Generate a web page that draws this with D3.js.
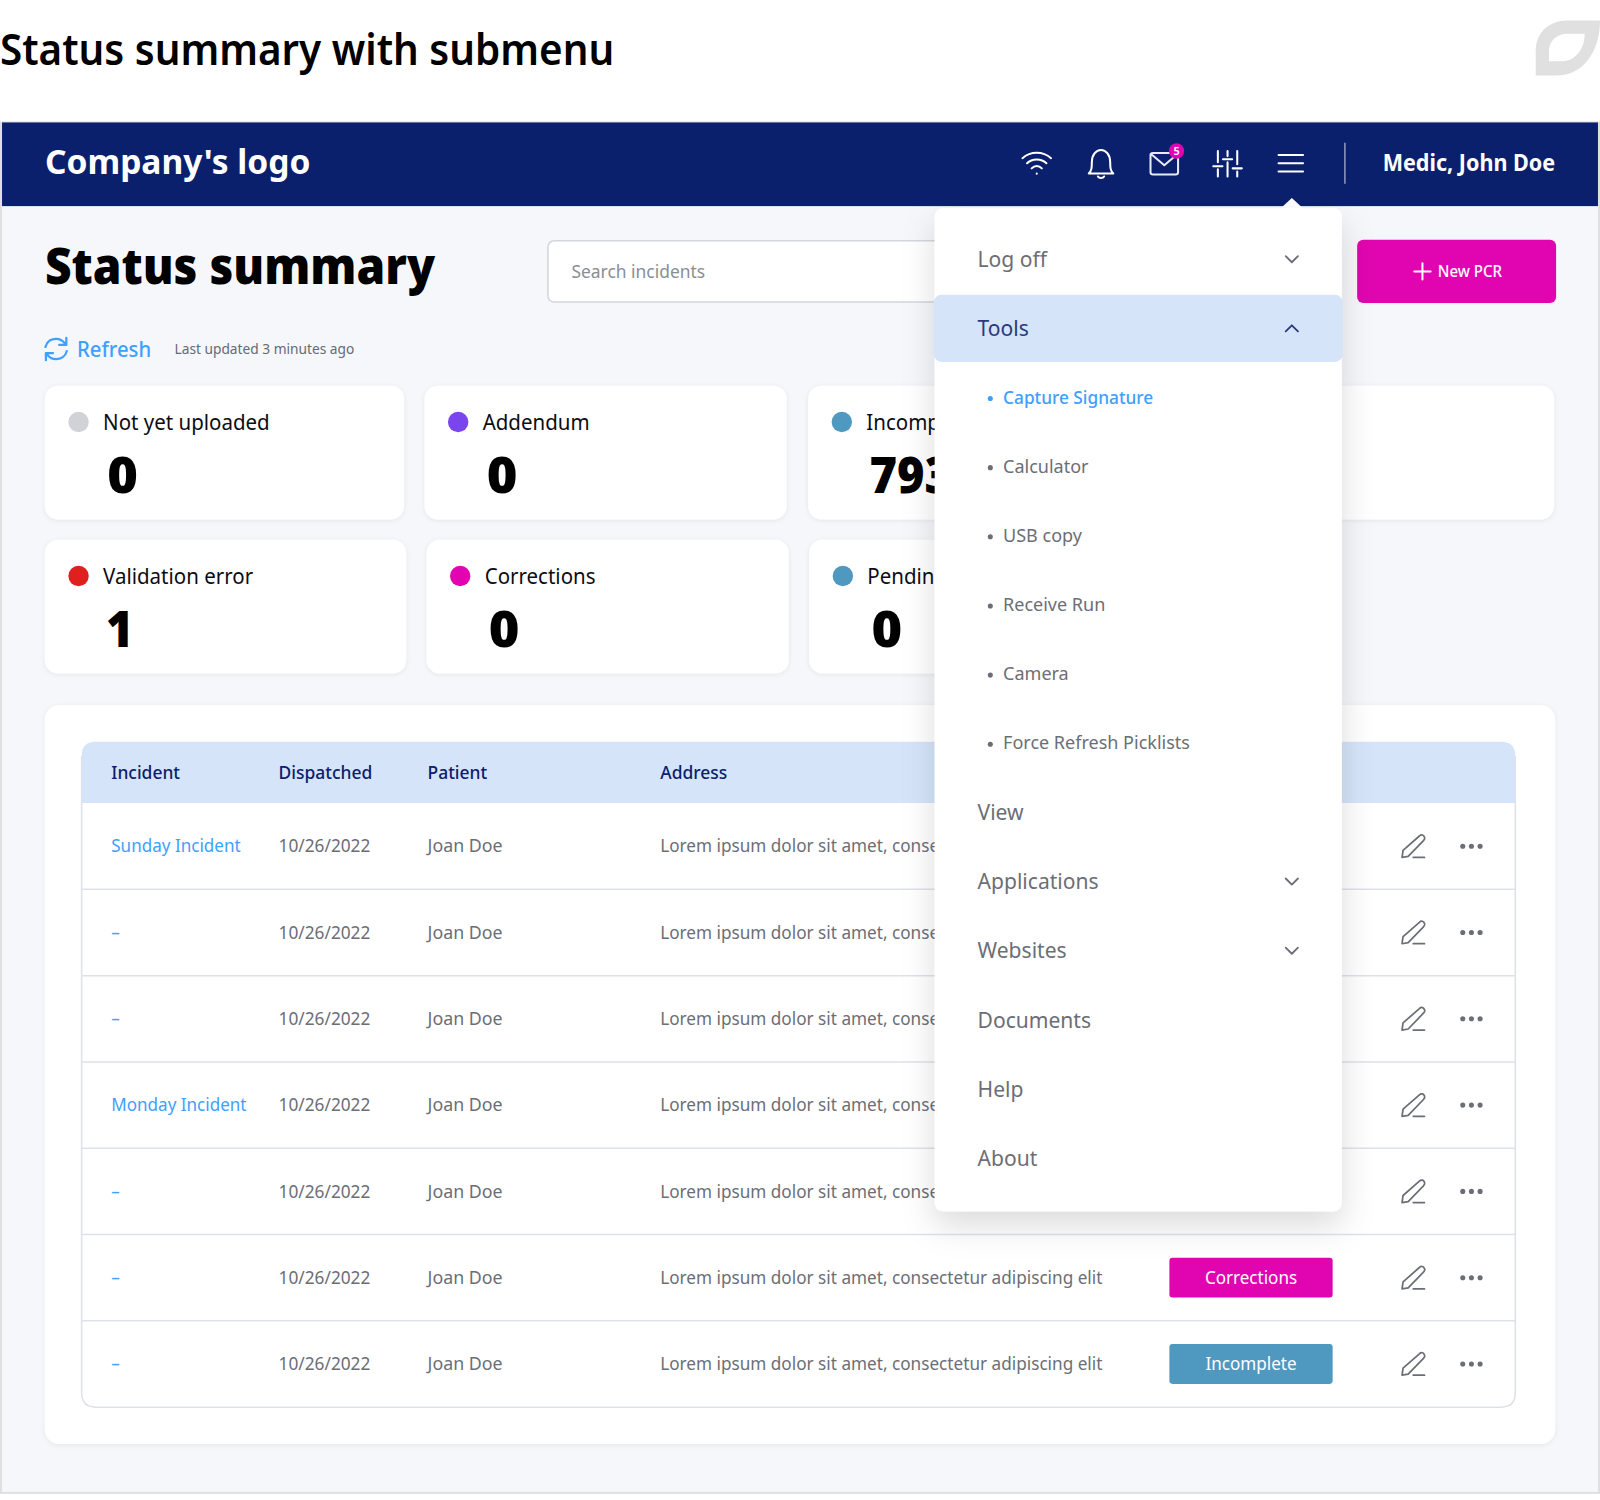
<!DOCTYPE html>
<html>
<head>
<meta charset="utf-8">
<title>Status summary with submenu</title>
<script src="https://cdn.jsdelivr.net/npm/d3@7/dist/d3.min.js"></script>
<style>
	html, body { margin: 0; padding: 0; background: #fff; }
	svg { display: block; }
	text { font-family: "Noto Sans", sans-serif; }
</style>
</head>
<body>
<script>

var cardLabels=[["Not yet uploaded", "Addendum", "Incomplete"], ["Validation error", "Corrections", "Pending"]];
var cardValues=[["0", "0", "793"], ["1", "0", "0"]];
var cardColors=[["#d0d2d8", "#7a45ec", "#4f99c1"], ["#e01f1f", "#e005b0", "#4f99c1"]];

var columns=["Incident", "Dispatched", "Patient", "Address"];
var incidents=["Sunday Incident", "-", "-", "Monday Incident", "-", "-", "-"];
var dispatched=["10/26/2022", "10/26/2022", "10/26/2022", "10/26/2022", "10/26/2022", "10/26/2022", "10/26/2022"];
var patients=["Joan Doe", "Joan Doe", "Joan Doe", "Joan Doe", "Joan Doe", "Joan Doe", "Joan Doe"];
var addresses=[
	"Lorem ipsum dolor sit amet, conse", // the menu covers the rest of these five
	"Lorem ipsum dolor sit amet, conse",
	"Lorem ipsum dolor sit amet, conse",
	"Lorem ipsum dolor sit amet, conse",
	"Lorem ipsum dolor sit amet, conse",
	"Lorem ipsum dolor sit amet, consectetur adipiscing elit",
	"Lorem ipsum dolor sit amet, consectetur adipiscing elit"
];
var statuses=[null, null, null, null, null, "Corrections", "Incomplete"]; // the others are covered by the menu

var menuItems=["Log off", "Tools", "Capture Signature", "Calculator", "USB copy", "Receive Run", "Camera",
	"Force Refresh Picklists", "View", "Applications", "Websites", "Documents", "Help", "About"];
var menuDepth=[0, 0, 1, 1, 1, 1, 1, 1, 0, 0, 0, 0, 0, 0];
var menuChevron=["down", "up", null, null, null, null, null, null, null, "down", "down", null, null, null];

var navy="#0a206c", pale="#d5e4f9", blue="#3ea0ff", magenta="#e005b0", teal="#4f99c1", grey="#6b6e76", line="#dfe1e8";

var svg=d3.select("body").append("svg")
	.attr("width", 1600)
	.attr("height", 1500)
	.attr("viewBox", "0 0 1568 1470"); // the layout was measured on a 1568 wide copy

var defs=svg.append("defs");

function shadow(id, dy, blur, alpha) {
	defs.append("filter").attr("id", id)
		.attr("x", "-20%").attr("y", "-20%").attr("width", "140%").attr("height", "140%")
		.append("feDropShadow")
		.attr("dx", 0).attr("dy", dy).attr("stdDeviation", blur)
		.attr("flood-color", "#000").attr("flood-opacity", alpha);
}

shadow("card", 1, 2.5, 0.07);
shadow("menu", 14, 16, 0.14);

function label(parent, value, x, y, size, weight, fill, sx, anchor) {
	return parent.append("text")
		.attr("transform", "translate("+x+","+y+") scale("+(sx || 1)+",1)")
		.attr("font-size", size)
		.attr("font-weight", weight)
		.attr("fill", fill)
		.attr("text-anchor", anchor || "start")
		.text(value);
}

function box(parent, x, y, w, h, r, fill) {
	return parent.append("rect")
		.attr("x", x).attr("y", y).attr("width", w).attr("height", h)
		.attr("rx", r).attr("fill", fill);
}

function icon(parent, x, y, d, color, width) {
	return parent.append("path")
		.attr("transform", "translate("+x+","+y+")")
		.attr("d", d)
		.attr("fill", "none")
		.attr("stroke", color)
		.attr("stroke-width", width || 2)
		.attr("stroke-linecap", "round")
		.attr("stroke-linejoin", "round");
}

// page frame

label(svg, "Status summary with submenu", 0, 64, 42, 600, "#000", 0.9425);

svg.append("path")
	.attr("fill", "#e0e0e0")
	.attr("fill-rule", "evenodd")
	.attr("d", "M1505 74V50C1505 32 1518 20 1536 20H1568C1568 50 1552 74 1525 74Z"
		+"M1518 60H1530C1544 60 1553 48 1553 33H1536C1526 33 1518 40 1518 50Z");

box(svg, 0, 119, 1568, 1345, 0, "#e0e0e0");
box(svg, 2, 121, 1564, 1341, 0, "#f5f7fb");
box(svg, 2, 120, 1564, 82, 0, navy);

// top bar

label(svg, "Company's logo", 44, 171, 33, 700, "#fff", 0.997);

icon(svg, 1016, 160, "M-14 -5C-6 -12 6 -12 14 -5M-9.5 0C-4.5 -5 4.5 -5 9.5 0M-5 5C-2 2 2 2 5 5M0 10V10.2", "#fff");
icon(svg, 1079, 159, "M-12 11H12C9 8 9 5 9 0C9 -7 5 -12 0 -12C-5 -12 -9 -7 -9 0C-9 5 -9 8 -12 11ZM-3 14C-2 16 2 16 3 14", "#fff");
icon(svg, 1141, 160, "M-11 -10H11C13 -10 13.500 -9 13.500 -8V9C13.500 10 13 11 11 11H-11C-13 11 -13.500 10 -13.500 9V-8C-13.500 -9 -13 -10 -11 -10ZM-13 -9L0 2L13 -9", "#e8ebf3");

svg.append("circle").attr("cx", 1153).attr("cy", 148).attr("r", 7.5).attr("fill", magenta);
label(svg, "5", 1153, 152, 10.5, 600, "#fff", 1, "middle");

icon(svg, 1203, 160, "M-9.500 -12V-1M-14 3H-5M-9.500 6V13M0 -12V-7M-4.500 -4H4.500M0 -1V13M9.500 -12V1M5 5H14M9.500 8V13", "#fff");
icon(svg, 1265, 160, "M-12 -8H12M-12 0H12M-12 8H12", "#fff");

svg.append("line")
	.attr("x1", 1318).attr("x2", 1318).attr("y1", 140).attr("y2", 180)
	.attr("stroke", "#fff").attr("stroke-opacity", 0.55).attr("stroke-width", 1.5);

label(svg, "Medic, John Doe", 1524, 168, 22, 700, "#fff", 0.96, "end");

// page heading

label(svg, "Status summary", 44, 278, 48, 900, "#000", 0.942);

box(svg, 537, 236, 500, 60, 6, "#fff").attr("stroke", "#d3d6de").attr("stroke-width", 1.5);
label(svg, "Search incidents", 560, 272, 18, 400, "#8a8d94", 0.949);

box(svg, 1330, 235, 195, 62, 6, magenta);
icon(svg, 1394, 266, "M-8 0H8M0 -8V8", "#fff");
label(svg, "New PCR", 1409, 271.500, 15.500, 500, "#fff", 0.95);

icon(svg, 55, 342, "M-10.500 -2C-9 -8 -4 -10 0 -10C4 -10 7 -8 9 -5M10 -11V-4H3M10.500 2C9 8 4 10 0 10C-4 10 -7 8 -9 5M-10 11V4H-3", blue, 2.2);
label(svg, "Refresh", 75.500, 350, 21.500, 500, blue, 0.925);
label(svg, "Last updated 3 minutes ago", 171, 346.500, 14, 400, "#666a72", 0.962);

// status cards

var cardTops=[378, 529];
var cardHeight=131;
var cardEdges=[[[44, 396], [416, 771], [792, 1523]], [[44, 398], [418, 773], [793, 1150]]];

cardLabels.forEach(function (labels, row) {
	labels.forEach(function (name, i) {

		var card=svg.append("g").attr("transform", "translate("+cardEdges[row][i][0]+","+cardTops[row]+")");
		var value=cardValues[row][i];

		box(card, 0, 0, cardEdges[row][i][1]-cardEdges[row][i][0], cardHeight, 13, "#fff").attr("filter", "url(#card)");

		card.append("circle").attr("cx", 33).attr("cy", 35.500).attr("r", 10).attr("fill", cardColors[row][i]);

		label(card, name, 57, 43, 21.500, 400, "#0c0d12", 0.935);
		label(card, value, value === "0" ? 61 : 60, 105, 48, 900, "#000", value === "0" ? 1.07 : 0.96); // zeros are wider in the reference

	});
});

// incidents table

box(svg, 44, 691, 1480, 724, 14, "#fff").attr("filter", "url(#card)");

var tableLeft=80, tableRight=1485, headTop=727, headBottom=787, tableBottom=1379;

var x=d3.scaleOrdinal().domain(columns).range([109, 273, 419, 647]);
var y=d3.scaleBand().domain(d3.range(incidents.length)).range([headBottom, tableBottom]);

svg.append("path")
	.attr("fill", "#fff")
	.attr("stroke", line)
	.attr("stroke-width", 1.5)
	.attr("d", "M"+tableLeft+" "+(headTop+14)
		+"V"+(tableBottom-14)+"Q"+tableLeft+" "+tableBottom+" "+(tableLeft+14)+" "+tableBottom
		+"H"+(tableRight-14)+"Q"+tableRight+" "+tableBottom+" "+tableRight+" "+(tableBottom-14)
		+"V"+(headTop+14));

svg.append("path")
	.attr("fill", pale)
	.attr("d", "M"+tableLeft+" "+headBottom+"V"+(headTop+14)+"Q"+tableLeft+" "+headTop+" "+(tableLeft+14)+" "+headTop
		+"H"+(tableRight-14)+"Q"+tableRight+" "+headTop+" "+tableRight+" "+(headTop+14)+"V"+headBottom+"Z");

columns.forEach(function (name) {
	label(svg, name, x(name), 763.500, 18, 500, navy, 0.95);
});

svg.selectAll(".separator")
	.data(d3.range(1, incidents.length))
	.enter().append("line")
	.attr("class", "separator")
	.attr("x1", tableLeft).attr("x2", tableRight)
	.attr("y1", function (d) { return y(d); })
	.attr("y2", function (d) { return y(d); })
	.attr("stroke", line)
	.attr("stroke-width", 1.5);

incidents.forEach(function (incident, i) {

	var row=svg.append("g").attr("transform", "translate(0,"+(y(i)+y.bandwidth()/2)+")");

	label(row, incident === "-" ? "\u2013" : incident, x("Incident"), 6, 18, 400, blue, 0.93);
	label(row, dispatched[i], x("Dispatched"), 6, 18, 400, grey, 0.94);
	label(row, patients[i], x("Patient"), 6, 18, 400, grey, 0.97);
	label(row, addresses[i], x("Address"), 6, 18, 400, grey, 0.935);

	if ( statuses[i] ) {
		box(row, 1146, -19.500, 160, 39, 3, statuses[i] === "Corrections" ? magenta : teal);
		label(row, statuses[i], 1226, 6, 18, 400, "#fff", 0.93, "middle");
	}

	icon(row, 1385, 0, "M-11 11L-10 4L6 -10C8 -12 10 -11 11 -9C11.500 -8 11 -6.500 10 -5.500L-5 10ZM0 11H11", grey, 1.7);

	row.selectAll("circle")
		.data([-8.500, 0, 8.500])
		.enter().append("circle")
		.attr("cx", function (d) { return 1442+d; })
		.attr("r", 2.500)
		.attr("fill", grey);

});

// dropdown menu

var menu=svg.append("g");

menu.append("path").attr("d", "M1254 205L1266 194L1278 205Z").attr("fill", "#fff");

box(menu, 916, 204, 399, 983, 8, "#fff").attr("filter", "url(#menu)");

var my=d3.scalePoint().domain(d3.range(menuItems.length)).range([254, 1135]);

box(menu, 915, my(1)-33, 401, 66, 8, pale);

menuItems.forEach(function (item, i) {

	var sub=menuDepth[i] === 1;
	var active=i === 2;
	var color=active ? blue : i === 1 ? "#2a3a7c" : grey;

	if ( sub ) {

		menu.append("circle").attr("cx", 970.500).attr("cy", my(i)+1).attr("r", 2.500).attr("fill", color);
		label(menu, item, 983, my(i)+6, 18.500, active ? 500 : 400, color, active ? 0.915 : 0.955);

	} else {

		label(menu, item, 958, my(i)+7.500, 21.500, 400, color, 0.96);

		if ( menuChevron[i] ) {
			icon(menu, 1266, my(i), menuChevron[i] === "down" ? "M-6 -3L0 3L6 -3" : "M-6 3L0 -3L6 3", color, 1.8);
		}

	}

});

</script>
</body>
</html>
